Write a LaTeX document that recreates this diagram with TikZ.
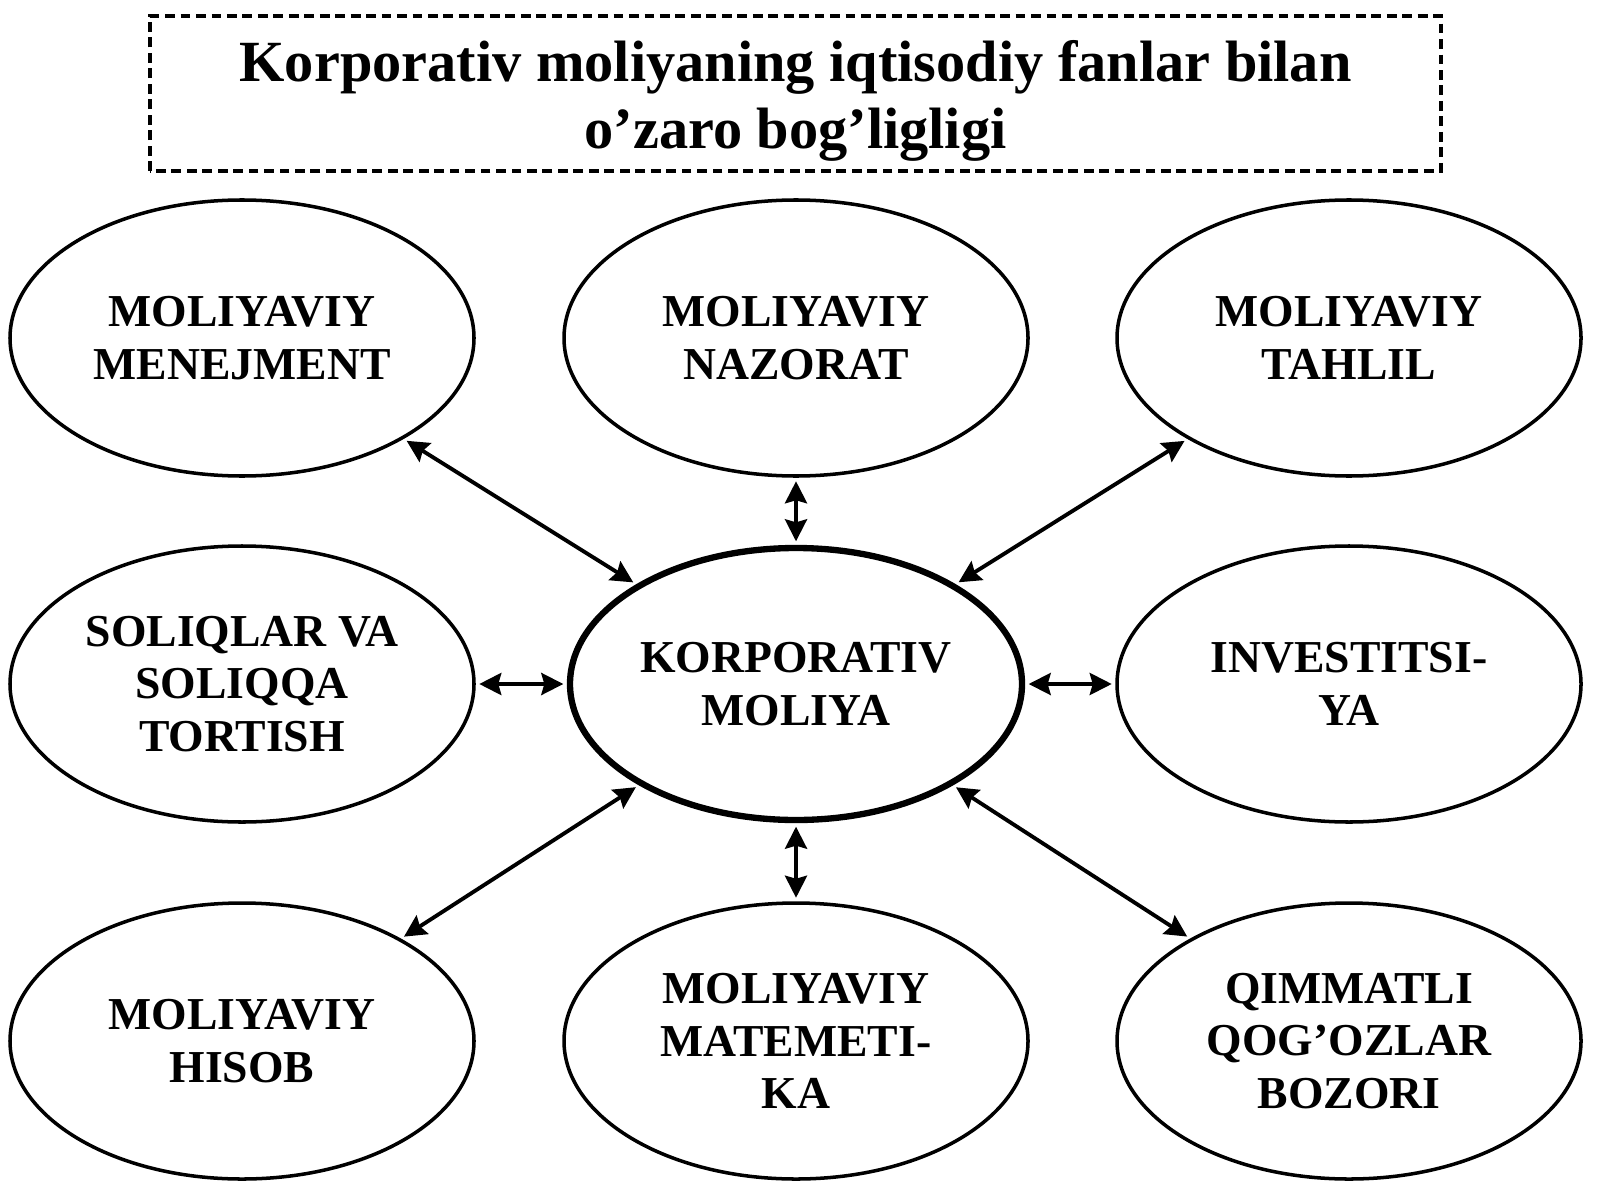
\documentclass[tikz,border=0pt]{standalone}
\usepackage{fontspec}
\setmainfont{Liberation Serif}
\usetikzlibrary{shapes.geometric,arrows.meta}

\begin{document}
\begin{tikzpicture}[
  disc/.style={ellipse, draw, line width=1pt, minimum width=4.64cm, minimum height=2.76cm,
    inner sep=0pt, align=center, font=\fontsize{13}{15}\selectfont\bfseries},
  link/.style={{Stealth[length=2.2mm, width=2.2mm, inset=0.3mm]}-{Stealth[length=2.2mm, width=2.2mm, inset=0.3mm]},
    line width=1.1pt, shorten >=1pt, shorten <=1pt}
]
  % Page size 16 x 12
  \useasboundingbox (0,0) rectangle (16,12);
  \def\xl{2.42}   % left column
  \def\xm{7.96}   % middle column
  \def\xr{13.49}  % right column
  \def\yt{8.62}   % top row
  \def\ym{5.16}   % middle row
  \def\yb{1.59}   % bottom row

  % Title box
  \draw[dash pattern=on 2.8pt off 1.6pt, line width=0.9pt] (1.50,10.29) rectangle (14.41,11.84);
  \node[align=center, font=\fontsize{16.6}{19}\selectfont\bfseries]
    (title) at (7.955,10.99) {Korporativ moliyaning iqtisodiy fanlar bilan\\o’zaro bog’ligligi};

  % Central ellipse
  \node[disc, line width=1.8pt, minimum width=4.52cm, minimum height=2.72cm] (kor) at (\xm,\ym) {KORPORATIV\\MOLIYA};

  % Surrounding ellipses
  \node[disc] (men) at (\xl,\yt) {MOLIYAVIY\\MENEJMENT};
  \node[disc] (naz) at (\xm,\yt) {MOLIYAVIY\\NAZORAT};
  \node[disc] (tah) at (\xr,\yt) {MOLIYAVIY\\TAHLIL};
  \node[disc] (sol) at (\xl,\ym) {SOLIQLAR VA\\SOLIQQA\\TORTISH};
  \node[disc] (inv) at (\xr,\ym) {INVESTITSI-\\YA};
  \node[disc] (his) at (\xl,\yb) {MOLIYAVIY\\HISOB};
  \node[disc] (mat) at (\xm,\yb) {MOLIYAVIY\\MATEMETI-\\KA};
  \node[disc] (qim) at (\xr,\yb) {QIMMATLI\\QOG’OZLAR\\BOZORI};

  % Links to the centre
  \foreach \n in {men,naz,tah,sol,inv,his,mat,qim}
    \draw[link] (kor) -- (\n);
\end{tikzpicture}
\end{document}
